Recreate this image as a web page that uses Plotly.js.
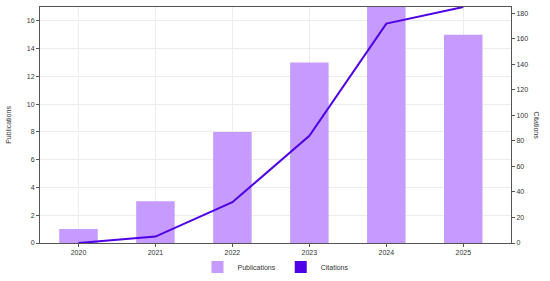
<!DOCTYPE html>
<html>
<head>
<meta charset="utf-8">
<script src="https://cdn.plot.ly/plotly-3.0.1.min.js"></script>
<style>
  html, body { margin: 0; padding: 0; background: #fff; }
  #chart { width: 550px; height: 281px; }
</style>
</head>
<body>
<div id="chart"></div>
<script>
// yearly publications (bars, left axis) and citations (line, right axis)
const years = ['2020', '2021', '2022', '2023', '2024', '2025'];
const publications = [1, 3, 8, 13, 17, 15];
const citations = [0, 5, 32, 84, 172, 185];

const BAR = '#c59bff';
const LINE = '#4f00e6';
const FONT = { family: 'Liberation Sans, Arial, sans-serif', size: 7, color: '#333' };

const traces = [
  { type: 'bar', x: years, y: publications, name: 'Publications', width: 0.5,
    marker: { color: BAR }, yaxis: 'y' },
  { type: 'scatter', mode: 'lines', x: years, y: citations, name: 'Citations',
    line: { color: LINE, width: 2 }, yaxis: 'y2', showlegend: false },
  // legend-only swatch so the line shows a filled square like the original
  { type: 'bar', x: [null], y: [null], name: 'Citations', marker: { color: LINE }, yaxis: 'y2' },
];

const axisCommon = {
  showline: true, linecolor: '#555', linewidth: 1,
  ticks: 'outside', ticklen: 3, tickcolor: '#555',
  gridcolor: '#ececec', zeroline: false, tickfont: FONT,
};

Plotly.newPlot('chart', traces, {
  width: 550, height: 281,
  margin: { l: 40, r: 39, t: 7, b: 38, autoexpand: false },
  paper_bgcolor: '#fff', plot_bgcolor: '#fff',
  font: FONT,
  xaxis: Object.assign({}, axisCommon, { type: 'category', range: [-0.5, 5.62], mirror: true,
    showgrid: true }),
  yaxis: Object.assign({}, axisCommon, { range: [0, 17], dtick: 2,
    title: { text: 'Publications', font: FONT, standoff: 14 } }),
  yaxis2: Object.assign({}, axisCommon, { overlaying: 'y', side: 'right', range: [0, 185], dtick: 20,
    showgrid: false }),
  annotations: [
    { text: 'Citations', font: FONT, textangle: 90, showarrow: false,
      xref: 'paper', yref: 'paper', x: 1, xshift: 31, y: 0.5 },
  ],
  legend: { orientation: 'h', x: 0.5, xanchor: 'center', yref: 'container', y: 0.05, yanchor: 'middle',
    font: FONT, itemwidth: 30, traceorder: 'normal', bgcolor: 'rgba(0,0,0,0)' },
  showlegend: true,
}, { displayModeBar: false, staticPlot: true });
</script>
</body>
</html>
